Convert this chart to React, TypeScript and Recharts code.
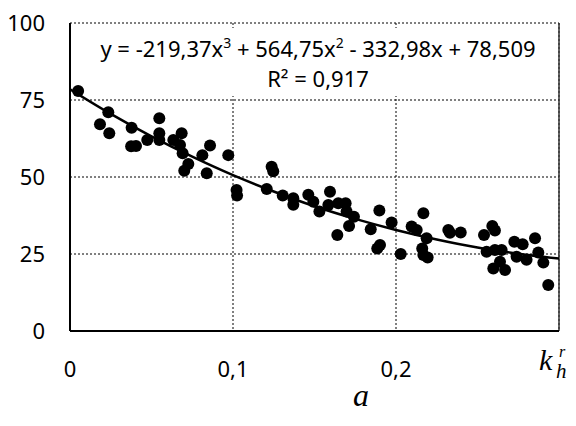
import React from 'react';
import { ComposedChart, Scatter, Line, XAxis, YAxis, CartesianGrid, ReferenceLine } from 'recharts';

// measured points: k_h^r (x) and efficiency (y)
const kValues = [
  0.005, 0.0235, 0.0184, 0.0241, 0.0378, 0.0375, 0.0405, 0.0474, 0.0548, 0.0548,
  0.0548, 0.0634, 0.0685, 0.0675, 0.0691, 0.0726, 0.0701, 0.0812, 0.0859, 0.0839,
  0.0971, 0.1022, 0.1025, 0.1207, 0.1237, 0.1247, 0.1305, 0.137, 0.137, 0.1462,
  0.1493, 0.153, 0.1595, 0.1585, 0.1646, 0.1691, 0.1697, 0.1742, 0.1712, 0.164,
  0.1845, 0.1898, 0.1973, 0.1902, 0.1885, 0.2029, 0.2168, 0.2096, 0.2127, 0.2188,
  0.2161, 0.2194, 0.2168, 0.2321, 0.2331, 0.2397, 0.254, 0.2591, 0.2607, 0.2556,
  0.2607, 0.2648, 0.2597, 0.2669, 0.2638, 0.2726, 0.2777, 0.274, 0.2801, 0.2853,
  0.2873, 0.2904, 0.2934,
];
const effValues = [
  77.9, 71.0, 67.1, 64.2, 66.0, 60.0, 60.1, 62.0, 69.1, 64.2,
  62.0, 62.0, 64.2, 60.4, 57.7, 54.2, 52.0, 57.1, 60.2, 51.2,
  57.1, 45.8, 44.0, 46.1, 53.3, 51.9, 44.0, 43.1, 41.0, 44.2,
  42.0, 38.8, 45.2, 40.9, 41.5, 41.5, 38.8, 37.1, 34.1, 31.2,
  33.0, 39.1, 35.2, 27.9, 26.8, 25.0, 38.2, 33.9, 32.8, 30.1,
  26.8, 23.9, 24.7, 32.8, 31.9, 32.0, 31.2, 34.1, 32.6, 25.7,
  26.3, 26.3, 20.3, 19.8, 22.5, 29.0, 28.2, 24.1, 23.1, 30.1,
  25.5, 22.2, 14.9,
];

// trend line
const trendX = [0, 0.025, 0.05, 0.075, 0.1, 0.125, 0.15, 0.175, 0.2, 0.225, 0.25, 0.275, 0.3];
const trendY = [78.5, 70.5, 63.2, 56.6, 50.6, 45.3, 40.5, 36.4, 32.8, 29.7, 27.1, 25.1, 23.5];

const xTicks = [0, 0.1, 0.2];
const yTicks = [0, 25, 50, 75, 100];

const equationText = ['y = -219,37x', '3', ' + 564,75x', '2', ' - 332,98x + 78,509'];
const r2Text = 'R² = 0,917';

const points = kValues.map((x, i) => ({ x, y: effValues[i] }));
const trend = trendX.map((x, i) => ({ x, y: trendY[i] }));

const tickFont = { fontFamily: 'Noto Sans, sans-serif', fontSize: 22, fill: '#000' };

const Dot = (props: any) => <circle cx={props.cx} cy={props.cy} r={6} fill="#000" />;

export default function App() {
  return (
    <div style={{ position: 'relative', width: 560, height: 410 }}>
      <ComposedChart width={560} height={410} margin={{ top: 15, right: 9, bottom: 0, left: 0 }}>
        <CartesianGrid stroke="#000" strokeDasharray="2 2" strokeWidth={1} />
        <XAxis
          type="number"
          dataKey="x"
          domain={[0, 0.3]}
          ticks={xTicks}
          tickFormatter={(v: number) => String(v).replace('.', ',')}
          tick={tickFont}
          tickLine={false}
          axisLine={{ stroke: '#000', strokeWidth: 2 }}
          tickMargin={24}
          height={87}
          allowDataOverflow
        />
        <YAxis
          type="number"
          dataKey="y"
          domain={[0, 100]}
          ticks={yTicks}
          tick={tickFont}
          tickLine={false}
          axisLine={{ stroke: '#000', strokeWidth: 2 }}
          tickMargin={19}
          width={62}
        />
        <ReferenceLine x={0.3} stroke="#333" strokeWidth={1.5} />
        <Scatter data={points} shape={Dot} isAnimationActive={false} />
        <Line data={trend} dataKey="y" type="monotone" stroke="#000" strokeWidth={2.5} dot={false} isAnimationActive={false} />
      </ComposedChart>
      <svg width={560} height={410} style={{ position: 'absolute', left: 0, top: 0, pointerEvents: 'none' }}>
        <rect x={80} y={20} width={460} height={68} fill="#fff" />
        <text x={310} y={49} textAnchor="middle" fontFamily="Noto Sans, sans-serif" fontSize={22} fill="#000">
          <tspan>{equationText[0]}</tspan>
          <tspan fontSize={14} dy={-9}>{equationText[1]}</tspan>
          <tspan dy={9}>{equationText[2]}</tspan>
          <tspan fontSize={14} dy={-9}>{equationText[3]}</tspan>
          <tspan dy={9}>{equationText[4]}</tspan>
        </text>
        <text x={310} y={79} textAnchor="middle" fontFamily="Noto Sans, sans-serif" fontSize={22} fill="#000">
          {r2Text}
        </text>
        <text fontFamily="Liberation Serif, serif" fontStyle="italic" fill="#000">
          <tspan x={531} y={362} fontSize={30}>k</tspan>
          <tspan x={548} y={370} fontSize={21}>h</tspan>
          <tspan x={551} y={349} fontSize={16}>r</tspan>
        </text>
        <text x={345} y={398} fontFamily="Liberation Serif, serif" fontStyle="italic" fontSize={32} fill="#000">
          a
        </text>
      </svg>
    </div>
  );
}
